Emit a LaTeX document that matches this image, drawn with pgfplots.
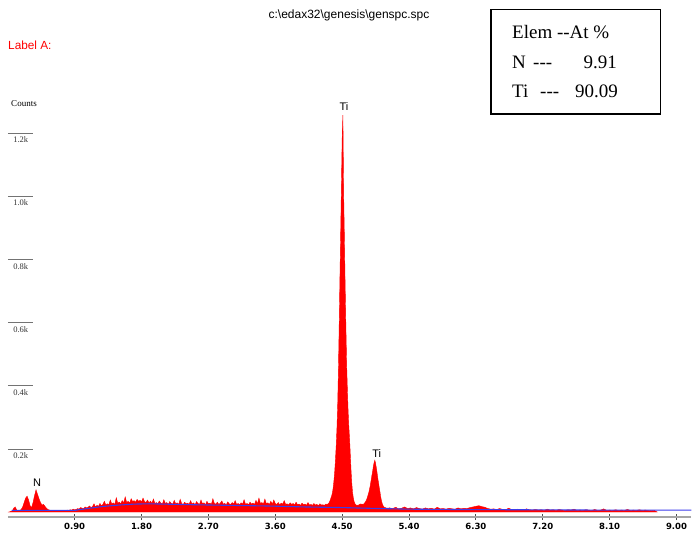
\documentclass[border=0pt]{standalone}
\usepackage{pgfplots}
\pgfplotsset{compat=1.18}
\usepackage{fontspec}
\setmainfont{Liberation Serif}[Ligatures=NoCommon]
\newfontfamily\arial{Liberation Sans}
\newfontfamily\verd{DejaVu Sans}
\definecolor{bgblue}{RGB}{60,60,235}
\definecolor{axgray}{RGB}{165,165,165}

% EDS spectrum, counts per channel
\pgfplotstableread{
E C
0.00 0
0.02 0
0.04 2
0.06 3
0.08 12
0.10 16
0.12 6
0.14 4
0.16 5
0.18 8
0.20 16
0.22 30
0.24 44
0.26 50
0.28 38
0.30 20
0.32 14
0.34 30
0.36 52
0.38 70
0.40 56
0.42 42
0.44 30
0.46 22
0.48 24
0.50 18
0.52 12
0.54 8
0.56 6
0.58 5
0.60 4
0.62 4
0.64 5
0.66 4
0.68 3
0.70 4
0.72 4
0.74 5
0.76 4
0.78 5
0.80 6
0.82 5
0.84 7
0.86 6
0.88 9
0.90 7
0.92 8
0.94 11
0.96 9
0.98 14
1.00 12
1.02 10
1.04 16
1.06 13
1.08 15
1.10 19
1.12 14
1.14 17
1.16 26
1.18 16
1.20 21
1.22 18
1.24 27
1.26 20
1.28 24
1.30 34
1.32 22
1.34 26
1.36 23
1.38 38
1.40 25
1.42 29
1.44 24
1.46 45
1.48 28
1.50 31
1.52 26
1.54 36
1.56 29
1.58 48
1.60 30
1.62 34
1.64 28
1.66 42
1.68 33
1.70 36
1.72 31
1.74 40
1.76 34
1.78 37
1.80 32
1.82 44
1.84 33
1.86 30
1.88 38
1.90 29
1.92 34
1.94 28
1.96 41
1.98 27
2.00 30
2.02 26
2.04 35
2.06 28
2.08 25
2.10 39
2.12 27
2.14 30
2.16 24
2.18 33
2.20 27
2.22 25
2.24 37
2.26 26
2.28 29
2.30 24
2.32 40
2.34 27
2.36 23
2.38 31
2.40 26
2.42 28
2.44 24
2.46 36
2.48 25
2.50 29
2.52 23
2.54 33
2.56 27
2.58 24
2.60 38
2.62 26
2.64 29
2.66 23
2.68 34
2.70 26
2.72 28
2.74 24
2.76 42
2.78 27
2.80 25
2.82 31
2.84 24
2.86 28
2.88 35
2.90 25
2.92 27
2.94 23
2.96 32
2.98 26
3.00 24
3.02 30
3.04 25
3.06 36
3.08 24
3.10 27
3.12 23
3.14 29
3.16 25
3.18 39
3.20 24
3.22 27
3.24 23
3.26 31
3.28 25
3.30 28
3.32 24
3.34 37
3.36 26
3.38 44
3.40 27
3.42 30
3.44 25
3.46 41
3.48 26
3.50 29
3.52 24
3.54 34
3.56 25
3.58 38
3.60 27
3.62 24
3.64 30
3.66 23
3.68 28
3.70 25
3.72 36
3.74 24
3.76 26
3.78 22
3.80 29
3.82 24
3.84 27
3.86 22
3.88 31
3.90 23
3.92 25
3.94 21
3.96 28
3.98 23
4.00 25
4.02 21
4.04 30
4.06 22
4.08 24
4.10 21
4.12 27
4.14 22
4.16 24
4.18 20
4.20 26
4.22 22
4.24 23
4.26 21
4.28 25
4.30 24
4.31 26
4.32 28
4.33 32
4.34 38
4.35 45
4.36 52
4.37 62
4.38 78
4.39 100
4.40 128
4.41 165
4.42 210
4.43 265
4.44 340
4.45 450
4.46 590
4.47 740
4.48 880
4.49 1030
4.50 1180
4.51 1256
4.52 1010
4.53 870
4.54 720
4.55 590
4.56 470
4.57 390
4.58 320
4.59 270
4.60 230
4.61 180
4.62 130
4.63 90
4.64 62
4.65 45
4.66 34
4.67 27
4.68 24
4.69 22
4.70 20
4.71 22
4.72 21
4.73 24
4.74 23
4.75 26
4.76 24
4.77 25
4.78 24
4.79 25
4.80 28
4.81 31
4.82 35
4.83 40
4.84 47
4.85 55
4.86 63
4.87 74
4.88 86
4.89 100
4.90 115
4.91 128
4.92 145
4.93 156
4.94 164
4.95 154
4.96 140
4.97 124
4.98 106
4.99 92
5.00 76
5.01 62
5.02 46
5.03 35
5.04 26
5.05 20
5.06 17
5.07 15
5.08 14
5.09 13
5.10 12
5.14 13
5.18 11
5.22 15
5.26 10
5.30 12
5.34 16
5.38 11
5.42 13
5.46 10
5.50 14
5.54 11
5.58 9
5.62 13
5.66 10
5.70 12
5.74 9
5.78 15
5.82 10
5.86 11
5.90 9
5.94 12
5.98 10
6.02 9
6.06 13
6.10 10
6.14 12
6.18 11
6.22 14
6.26 16
6.30 18
6.34 20
6.38 17
6.42 15
6.46 11
6.50 9
6.54 10
6.58 8
6.62 11
6.66 8
6.70 7
6.74 12
6.78 8
6.82 7
6.86 9
6.90 7
6.94 6
6.98 10
7.02 7
7.06 6
7.10 8
7.14 6
7.18 7
7.22 5
7.26 9
7.30 6
7.34 7
7.38 5
7.42 8
7.46 6
7.50 5
7.54 7
7.58 6
7.62 9
7.66 5
7.70 6
7.74 5
7.78 7
7.82 6
7.86 5
7.90 8
7.94 5
7.98 6
8.02 10
8.06 5
8.10 6
8.14 5
8.18 7
8.22 5
8.26 6
8.30 5
8.34 8
8.38 5
8.42 6
8.46 5
8.50 7
8.54 5
8.58 6
8.62 5
8.66 4
8.70 5
8.74 0
}\spectrum

% fitted background
\pgfplotstableread{
E C
0.05 5
0.90 5
0.95 7
1.10 12
1.30 18
1.50 22
1.70 25
1.90 26
2.10 25
2.50 23
3.00 21
3.50 19
4.00 16
4.50 14
5.00 11
5.40 9
6.00 8
7.00 7
8.00 6
9.20 6
}\background

\begin{document}
\begin{tikzpicture}
\path[use as bounding box] (0,0) rectangle (693pt,538pt);
\begin{axis}[
    at={(7.8pt,21pt)}, anchor=south west,
    x=74.3pt, y=0.316pt,
    xmin=0, xmax=9.2,
    ymin=-15.8, ymax=1300,
    clip=false,
    axis x line=bottom, axis y line=left,
    x axis line style={-, draw=axgray, line width=2pt},
    y axis line style={draw=none},
    xtick={0.9,1.8,2.7,3.6,4.5,5.4,6.3,7.2,8.1,9.0},
    xticklabels={0.90,1.80,2.70,3.60,4.50,5.40,6.30,7.20,8.10,9.00},
    ytick={200,400,600,800,1000,1200},
    yticklabels={0.2k,0.4k,0.6k,0.8k,1.0k,1.2k},
    xtick align=center, ytick align=inside,
    xtick style={draw=black!70, line width=0.8pt, /pgfplots/major tick length=6pt},
    ytick style={draw=black!55, line width=0.6pt, /pgfplots/major tick length=25pt},
    xticklabel style={font=\verd\bfseries\fontsize{8.5}{10}\selectfont, yshift=-1pt},
    yticklabel style={font=\fontsize{8.5}{10}\selectfont, text=black!80, anchor=north, xshift=13pt, yshift=-0.5pt},
    minor tick num=0,
]
\addplot[draw=red, fill=red, line width=0.4pt] table[x=E, y=C] {\spectrum} \closedcycle;
\addplot[draw=bgblue, line width=1.1pt] table[x=E, y=C] {\background};
\node[font=\arial\fontsize{11}{12}\selectfont] at (axis cs:4.525,1283) {Ti};
\node[font=\arial\fontsize{11}{12}\selectfont] at (axis cs:4.965,184) {Ti};
\node[font=\arial\fontsize{11}{12}\selectfont] at (axis cs:0.393,93) {N};
\end{axis}
\node[font=\arial\fontsize{12}{14}\selectfont] at (349pt,523pt) {c:\textbackslash edax32\textbackslash genesis\textbackslash genspc.spc};
\node[font=\arial\fontsize{11.8}{13}\selectfont, text=red, anchor=west, inner sep=0pt] at (8pt,493pt) {Label A:};
\node[font=\fontsize{9}{10}\selectfont] at (24pt,434pt) {Counts};
\draw[line width=1.6pt] (491pt,528.5pt) rectangle (660.5pt,424pt);
\begin{scope}[every node/.style={font=\fontsize{19}{22}\selectfont, inner sep=0pt}]
\node[anchor=base west] at (512pt,499pt) {Elem -{}-At \%};
\node[anchor=base west] at (512pt,469pt) {N};
\node[anchor=base west] at (533pt,469pt) {-{}-{}-};
\node[anchor=base east] at (617pt,469pt) {9.91};
\node[anchor=base west] at (512pt,440pt) {Ti};
\node[anchor=base west] at (540pt,440pt) {-{}-{}-};
\node[anchor=base east] at (618pt,440pt) {90.09};
\end{scope}
\end{tikzpicture}
\end{document}
